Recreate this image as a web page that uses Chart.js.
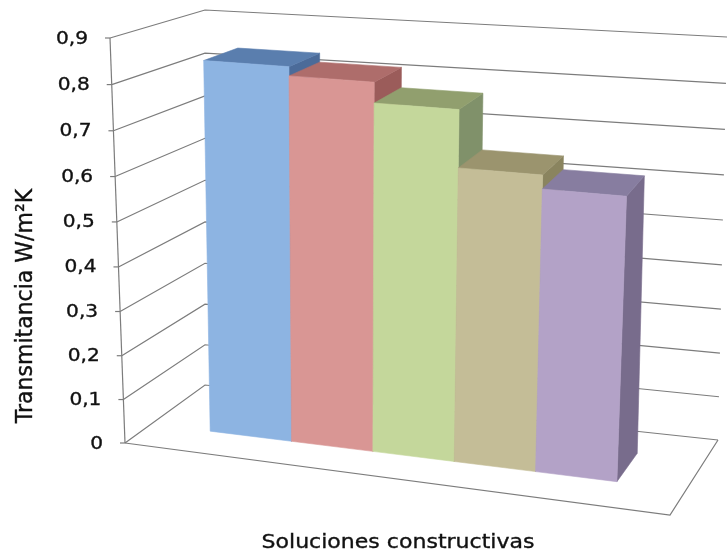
<!DOCTYPE html>
<html>
<head>
<meta charset="utf-8">
<script src="https://cdn.jsdelivr.net/npm/chart.js@4.4.0/dist/chart.umd.min.js"></script>
<style>
  html, body { margin: 0; padding: 0; background: #fff; }
  #wrap { width: 727px; height: 553px; position: relative; }
</style>
</head>
<body>
<div id="wrap"><canvas id="chart"></canvas></div>
<script>
// Datos: transmitancia de cada solución constructiva
const soluciones = ['Solución 1', 'Solución 2', 'Solución 3', 'Solución 4', 'Solución 5'];
const transmitancia = [0.84, 0.82, 0.775, 0.65, 0.62];
const yTicks = [0, 0.1, 0.2, 0.3, 0.4, 0.5, 0.6, 0.7, 0.8, 0.9];
const yTickLabels = ['0', '0,1', '0,2', '0,3', '0,4', '0,5', '0,6', '0,7', '0,8', '0,9'];
const yTitle = 'Transmitancia W/m²K';
const xTitle = 'Soluciones constructivas';

// caras de cada columna: frontal, superior y lateral
const colorFrente = ['#8db4e2', '#d99694', '#c4d79b', '#c4bd97', '#b3a2c7'];
const colorTapa = ['#5a7eae', '#ae6d6b', '#919f6e', '#9b946e', '#877da0'];
const colorLado = ['#4b6b99', '#9b5c5a', '#80916a', '#8a845f', '#786c8c'];

// esquinas de la caja 3D en pantalla (suelo y techo)
const FLB = [125, 443], FRB = [670, 515], BLB = [205, 385], BRB = [718, 440];
const FLT = [110, 38], FRT = [692, 82], BLT = [205, 10], BRT = [727, 37];
const U0 = 0.11, U1 = 0.871;   // tramo ocupado por las columnas
const DF = 0.33, DB = 0.72;    // profundidad delantera / trasera de las columnas
const GRID = '#7c7c7c';
const FONT = '"DejaVu Sans", Verdana, sans-serif';

function lerp(a, b, s) { return a + (b - a) * s; }
function bilin(a, b, c, d, u, w) {
  return [lerp(lerp(a[0], b[0], u), lerp(c[0], d[0], u), w),
          lerp(lerp(a[1], b[1], u), lerp(c[1], d[1], u), w)];
}
// u: a lo ancho, d: profundidad, t: fracción de altura (0..1)
function proj(u, d, t) {
  const lo = bilin(FLB, FRB, BLB, BRB, u, d);
  const hi = bilin(FLT, FRT, BLT, BRT, u, d);
  const g = t / (1.04 - 0.04 * t);
  return [lerp(lo[0], hi[0], g), lerp(lo[1], hi[1], g)];
}

function poly(ctx, pts, fill) {
  ctx.beginPath();
  ctx.moveTo(pts[0][0], pts[0][1]);
  for (let i = 1; i < pts.length; i++) ctx.lineTo(pts[i][0], pts[i][1]);
  ctx.closePath();
  ctx.fillStyle = fill;
  ctx.fill();
  ctx.strokeStyle = fill;
  ctx.lineWidth = 0.6;
  ctx.stroke();
}

function line(ctx, pts) {
  ctx.beginPath();
  ctx.moveTo(pts[0][0], pts[0][1]);
  for (let i = 1; i < pts.length; i++) ctx.lineTo(pts[i][0], pts[i][1]);
  ctx.stroke();
}

// texto algo ensanchado y con trazo fino para darle cuerpo
function text(ctx, str, x, y, sx, rot) {
  ctx.save();
  ctx.translate(x, y);
  ctx.scale(sx, 1);
  if (rot) ctx.rotate(rot);
  ctx.fillStyle = '#111';
  ctx.strokeStyle = '#111';
  ctx.lineWidth = 0.35;
  ctx.fillText(str, 0, 0);
  ctx.strokeText(str, 0, 0);
  ctx.restore();
}

const column3d = {
  id: 'column3d',
  afterDatasetsDraw(chart) {
    const ctx = chart.ctx;
    const xs = chart.scales.x, ys = chart.scales.y;
    const yMax = ys.max;
    const frac = v => (ys.bottom - ys.getPixelForValue(v)) / (ys.bottom - ys.getPixelForValue(yMax));

    ctx.save();
    // líneas de división en pared izquierda y fondo
    ctx.strokeStyle = GRID;
    ctx.lineWidth = 1.2;
    yTicks.forEach(v => {
      const t = frac(v);
      line(ctx, [proj(0, 0, t), proj(0, 1, t), proj(1, 1, t)]);
    });
    // borde del suelo
    line(ctx, [proj(0, 0, 0), proj(1, 0, 0), proj(1, 1, 0)]);
    // eje vertical con marcas
    line(ctx, [proj(0, 0, 0), proj(0, 0, 1)]);
    yTicks.forEach(v => {
      const p = proj(0, 0, frac(v));
      line(ctx, [[p[0] - 5, p[1]], p]);
    });
    ctx.font = '17.5px ' + FONT;
    ctx.textAlign = 'right';
    ctx.textBaseline = 'middle';
    yTicks.forEach((v, i) => {
      const p = proj(0, 0, frac(v));
      text(ctx, yTickLabels[i], p[0] - 22, p[1] + 1, 1.15, 0);
    });

    // columnas, de atrás (izquierda) hacia delante (derecha)
    const meta = chart.getDatasetMeta(0);
    meta.data.forEach((bar, i) => {
      const b = bar.getProps(['x', 'y', 'base', 'width'], true);
      const u0 = U0 + (U1 - U0) * (b.x - b.width / 2 - xs.left) / xs.width;
      const u1 = U0 + (U1 - U0) * (b.x + b.width / 2 - xs.left) / xs.width;
      const t = (b.base - b.y) / (b.base - ys.getPixelForValue(yMax));
      poly(ctx, [proj(u1, DF, 0), proj(u1, DB, 0), proj(u1, DB, t), proj(u1, DF, t)], colorLado[i]);
      poly(ctx, [proj(u0, DF, t), proj(u1, DF, t), proj(u1, DB, t), proj(u0, DB, t)], colorTapa[i]);
      poly(ctx, [proj(u0, DF, 0), proj(u1, DF, 0), proj(u1, DF, t), proj(u0, DF, t)], colorFrente[i]);
    });

    // títulos de ejes
    ctx.textAlign = 'center';
    ctx.textBaseline = 'alphabetic';
    ctx.font = '19.5px ' + FONT;
    text(ctx, xTitle, 398, 548, 1.13, 0);
    ctx.font = '22px ' + FONT;
    text(ctx, yTitle, 32, 306, 1.06, -Math.PI / 2);
    ctx.restore();
  }
};

new Chart(document.getElementById('chart'), {
  type: 'bar',
  data: {
    labels: soluciones,
    datasets: [{
      label: yTitle,
      data: transmitancia,
      backgroundColor: 'rgba(0,0,0,0)',
      borderWidth: 0,
      categoryPercentage: 1,
      barPercentage: 1
    }]
  },
  options: {
    responsive: true,
    maintainAspectRatio: false,
    animation: false,
    events: [],
    layout: { padding: { left: 130, right: 60, top: 40, bottom: 80 } },
    plugins: { legend: { display: false }, tooltip: { enabled: false } },
    scales: {
      x: { display: false },
      y: { display: false, min: 0, max: 0.9, ticks: { stepSize: 0.1 } }
    }
  },
  plugins: [column3d]
});
</script>
</body>
</html>
